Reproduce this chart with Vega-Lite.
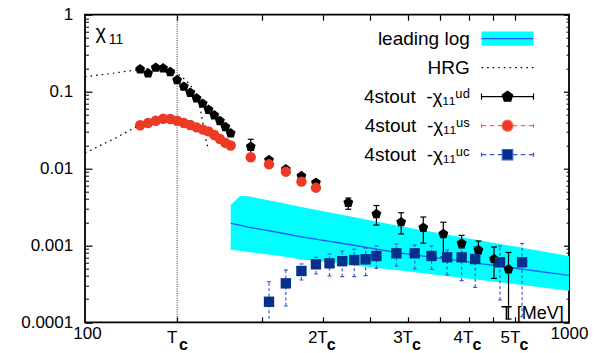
{
  "$schema": "https://vega.github.io/schema/vega-lite/v6.json",
  "width": 484,
  "height": 307.6,
  "autosize": {"type": "none"},
  "padding": {"left": 85, "top": 14.7, "right": 40, "bottom": 30.7},
  "config": {
    "font": "Liberation Sans",
    "view": {"stroke": "#000", "strokeWidth": 1.8},
    "axis": {
      "grid": false, "domain": false, "labelFont": "Liberation Sans", "labelColor": "#000",
      "tickColor": "#000", "titleColor": "#000", "titleFont": "Liberation Sans", "titleFontWeight": "normal",
      "labelOverlap": false, "labelFlush": false, "labelBound": false
    }
  },
  "datasets": {
    "band": [
      {"T": 200, "lo": 0.00088, "mid": 0.00194, "hi": 0.00335},
      {"T": 209, "lo": 0.000853, "mid": 0.00184, "hi": 0.00439},
      {"T": 217, "lo": 0.000818, "mid": 0.00173, "hi": 0.00435},
      {"T": 253, "lo": 0.00073, "mid": 0.00146, "hi": 0.00361},
      {"T": 278, "lo": 0.000659, "mid": 0.0013, "hi": 0.00319},
      {"T": 354, "lo": 0.000558, "mid": 0.00102, "hi": 0.00238},
      {"T": 448, "lo": 0.000472, "mid": 0.000796, "hi": 0.00177},
      {"T": 656, "lo": 0.000354, "mid": 0.00058, "hi": 0.00116},
      {"T": 1000, "lo": 0.000258, "mid": 0.000408, "hi": 0.000728}
    ],
    "tc": [{"T": 155}],
    "hrg": [
      {"c": "ud", "T": 100, "v": 0.156}, {"c": "ud", "T": 110, "v": 0.168}, {"c": "ud", "T": 120, "v": 0.181},
      {"c": "ud", "T": 130, "v": 0.194}, {"c": "ud", "T": 140, "v": 0.201}, {"c": "ud", "T": 148, "v": 0.192},
      {"c": "ud", "T": 155, "v": 0.172}, {"c": "ud", "T": 160, "v": 0.148}, {"c": "ud", "T": 165, "v": 0.122},
      {"c": "ud", "T": 169, "v": 0.097}, {"c": "ud", "T": 172, "v": 0.072}, {"c": "ud", "T": 174, "v": 0.05},
      {"c": "ud", "T": 176, "v": 0.033}, {"c": "ud", "T": 178, "v": 0.023}, {"c": "ud", "T": 180, "v": 0.0172},
      {"c": "us", "T": 100, "v": 0.0159}, {"c": "us", "T": 115, "v": 0.0245}, {"c": "us", "T": 130, "v": 0.037},
      {"c": "us", "T": 140, "v": 0.043}
    ],
    "pts": [
      {"s": "ud", "T": 130, "v": 0.195, "lo": 0.18, "hi": 0.212},
      {"s": "ud", "T": 135, "v": 0.173, "lo": 0.165, "hi": 0.181},
      {"s": "ud", "T": 140, "v": 0.205, "lo": 0.196, "hi": 0.214},
      {"s": "ud", "T": 145, "v": 0.201, "lo": 0.193, "hi": 0.209},
      {"s": "ud", "T": 150, "v": 0.18, "lo": 0.173, "hi": 0.187},
      {"s": "ud", "T": 155, "v": 0.1415, "lo": 0.136, "hi": 0.147},
      {"s": "ud", "T": 160, "v": 0.116, "lo": 0.112, "hi": 0.12},
      {"s": "ud", "T": 165, "v": 0.0968, "lo": 0.094, "hi": 0.1},
      {"s": "ud", "T": 170, "v": 0.0818, "lo": 0.079, "hi": 0.0845},
      {"s": "ud", "T": 175, "v": 0.0697, "lo": 0.0675, "hi": 0.072},
      {"s": "ud", "T": 180, "v": 0.0582, "lo": 0.0563, "hi": 0.0601},
      {"s": "ud", "T": 185, "v": 0.0492, "lo": 0.0476, "hi": 0.0508},
      {"s": "ud", "T": 190, "v": 0.0415, "lo": 0.0402, "hi": 0.0428},
      {"s": "ud", "T": 195, "v": 0.0347, "lo": 0.0336, "hi": 0.0358},
      {"s": "ud", "T": 200, "v": 0.0287, "lo": 0.0278, "hi": 0.0296},
      {"s": "ud", "T": 220, "v": 0.0192, "lo": 0.015, "hi": 0.024},
      {"s": "ud", "T": 240, "v": 0.0129, "lo": 0.0122, "hi": 0.0136},
      {"s": "ud", "T": 260, "v": 0.00977, "lo": 0.0093, "hi": 0.0102},
      {"s": "ud", "T": 280, "v": 0.00798, "lo": 0.0076, "hi": 0.0084},
      {"s": "ud", "T": 300, "v": 0.00654, "lo": 0.0062, "hi": 0.0069},
      {"s": "ud", "T": 350, "v": 0.00359, "lo": 0.00295, "hi": 0.00413},
      {"s": "ud", "T": 400, "v": 0.00256, "lo": 0.00184, "hi": 0.0033},
      {"s": "ud", "T": 450, "v": 0.00201, "lo": 0.00141, "hi": 0.00266},
      {"s": "ud", "T": 500, "v": 0.0017, "lo": 0.00107, "hi": 0.00234},
      {"s": "ud", "T": 550, "v": 0.00141, "lo": 0.00071, "hi": 0.002},
      {"s": "ud", "T": 600, "v": 0.00106, "lo": 0.000925, "hi": 0.00135},
      {"s": "ud", "T": 650, "v": 0.000871, "lo": 0.000773, "hi": 0.00114},
      {"s": "ud", "T": 700, "v": 0.000665, "lo": 0.000373, "hi": 0.000953},
      {"s": "ud", "T": 750, "v": 0.000489, "lo": 0.00011, "hi": 0.000809},
      {"s": "us", "T": 130, "v": 0.0365}, {"s": "us", "T": 135, "v": 0.0391}, {"s": "us", "T": 140, "v": 0.0418},
      {"s": "us", "T": 145, "v": 0.0444}, {"s": "us", "T": 150, "v": 0.044}, {"s": "us", "T": 155, "v": 0.0418},
      {"s": "us", "T": 160, "v": 0.0391}, {"s": "us", "T": 165, "v": 0.0368}, {"s": "us", "T": 170, "v": 0.0343},
      {"s": "us", "T": 175, "v": 0.0322}, {"s": "us", "T": 180, "v": 0.0304}, {"s": "us", "T": 185, "v": 0.0273},
      {"s": "us", "T": 190, "v": 0.0242}, {"s": "us", "T": 195, "v": 0.0215}, {"s": "us", "T": 200, "v": 0.0199},
      {"s": "us", "T": 220, "v": 0.014}, {"s": "us", "T": 240, "v": 0.01134}, {"s": "us", "T": 260, "v": 0.00909},
      {"s": "us", "T": 280, "v": 0.00674}, {"s": "us", "T": 300, "v": 0.00563},
      {"s": "uc", "T": 240, "v": 0.000185, "lo": 0.00008, "hi": 0.000337},
      {"s": "uc", "T": 260, "v": 0.000321, "lo": 0.000163, "hi": 0.000479},
      {"s": "uc", "T": 280, "v": 0.000465, "lo": 0.000355, "hi": 0.000573},
      {"s": "uc", "T": 300, "v": 0.000568, "lo": 0.000425, "hi": 0.0007},
      {"s": "uc", "T": 320, "v": 0.000585, "lo": 0.0004, "hi": 0.000773},
      {"s": "uc", "T": 340, "v": 0.000623, "lo": 0.000392, "hi": 0.000846},
      {"s": "uc", "T": 360, "v": 0.000646, "lo": 0.000392, "hi": 0.000889},
      {"s": "uc", "T": 380, "v": 0.000659, "lo": 0.000404, "hi": 0.00092},
      {"s": "uc", "T": 400, "v": 0.000728, "lo": 0.000504, "hi": 0.000982},
      {"s": "uc", "T": 440, "v": 0.000789, "lo": 0.00054, "hi": 0.00104},
      {"s": "uc", "T": 480, "v": 0.000789, "lo": 0.000493, "hi": 0.00101},
      {"s": "uc", "T": 520, "v": 0.000728, "lo": 0.000489, "hi": 0.000982},
      {"s": "uc", "T": 560, "v": 0.0007, "lo": 0.000412, "hi": 0.000871},
      {"s": "uc", "T": 600, "v": 0.0007, "lo": 0.000348, "hi": 0.000934},
      {"s": "uc", "T": 640, "v": 0.000665, "lo": 0.000285, "hi": 0.000962},
      {"s": "uc", "T": 720, "v": 0.000603, "lo": 0.000195, "hi": 0.000982},
      {"s": "uc", "T": 800, "v": 0.000603, "lo": 0.000118, "hi": 0.00106}
    ]
  },
  "resolve": {"axis": {"x": "independent", "y": "independent"}},
  "layer": [
    {
      "data": {"name": "band"},
      "mark": {"type": "area", "color": "#00ffff", "opacity": 1, "clip": true},
      "encoding": {
        "x": {
          "field": "T", "type": "quantitative",
          "scale": {"type": "log", "domain": [100, 1000], "nice": false},
          "axis": {
            "orient": "bottom", "values": [100, 155, 310, 465, 620, 775, 1000], "ticks": false,
            "labelExpr": "datum.value == 100 ? '100' : datum.value == 1000 ? '1000' : datum.value == 155 ? 'T' : round(datum.value / 155) + 'T'",
            "labelFontSize": 17, "labelAlign": "center", "labelBaseline": "alphabetic",
            "labelPadding": {"condition": {"test": "datum.value == 100 || datum.value == 1000", "value": 16}, "value": 19.7},
            "labelOffset": {"condition": [{"test": "datum.value == 100", "value": 2}, {"test": "datum.value == 1000", "value": 0}], "value": -5.5},
            "title": "T [MeV]", "titleFontSize": 18, "titleX": 478.3, "titleY": -4,
            "titleAlign": "right", "titleBaseline": "alphabetic"
          }
        },
        "y": {
          "field": "hi", "type": "quantitative",
          "scale": {"type": "log", "domain": [0.0001, 1], "nice": false},
          "axis": {
            "orient": "left", "values": [0.0001, 0.001, 0.01, 0.1, 1], "format": "~g", "ticks": false,
            "labelFontSize": 17, "labelPadding": 12.3, "labelAlign": "right", "labelBaseline": "middle",
            "title": "χ", "titleAngle": 0, "titleX": 10, "titleY": 24, "titleAlign": "left",
            "titleBaseline": "alphabetic", "titleFontSize": 20
          }
        },
        "y2": {"field": "lo"}
      }
    },
    {
      "data": {"name": "band"},
      "mark": {"type": "line", "color": "#1f5aff", "strokeWidth": 1.3, "clip": true},
      "encoding": {
        "x": {
          "field": "T", "type": "quantitative",
          "scale": {"type": "log", "domain": [100, 1000], "nice": false},
          "axis": {
            "orient": "bottom", "values": [155, 310, 465, 620, 775], "ticks": false,
            "labelExpr": "'c'", "labelFontSize": 16, "labelFontWeight": "bold",
            "labelAlign": "left", "labelBaseline": "alphabetic", "labelPadding": 26.7,
            "labelOffset": {"condition": {"test": "datum.value == 155", "value": 1.5}, "value": 3.5},
            "title": null
          }
        },
        "y": {
          "field": "mid", "type": "quantitative",
          "scale": {"type": "log", "domain": [0.0001, 1], "nice": false},
          "axis": {
            "orient": "left", "values": [0.0001, 0.001, 0.01, 0.1, 1], "labels": false,
            "tickSize": -7, "tickWidth": 1.2,
            "title": "11", "titleAngle": 0, "titleX": 23.3, "titleY": 28.6, "titleAlign": "left",
            "titleBaseline": "alphabetic", "titleFontSize": 14
          }
        }
      }
    },
    {
      "data": {"name": "tc"},
      "mark": {"type": "rule", "color": "#333", "strokeDash": [1, 1.3], "strokeWidth": 1},
      "encoding": {
        "x": {
          "field": "T", "type": "quantitative",
          "scale": {"type": "log", "domain": [100, 1000], "nice": false},
          "axis": {
            "orient": "bottom", "values": [155, 232.5, 310, 387.5, 465, 542.5, 620, 697.5, 775],
            "labels": false, "tickSize": -5.5, "tickWidth": 1.2, "title": null
          }
        }
      }
    },
    {
      "data": {"name": "hrg"},
      "mark": {"type": "line", "color": "#000", "strokeDash": [1.6, 4], "strokeWidth": 1.2, "clip": true},
      "encoding": {
        "x": {
          "field": "T", "type": "quantitative",
          "scale": {"type": "log", "domain": [100, 1000], "nice": false},
          "axis": {
            "orient": "top", "values": [155, 232.5, 310, 387.5, 465, 542.5, 620, 697.5, 775],
            "labels": false, "tickSize": -5.5, "tickWidth": 1.2, "title": null
          }
        },
        "y": {
          "field": "v", "type": "quantitative",
          "scale": {"type": "log", "domain": [0.0001, 1], "nice": false},
          "axis": {
            "orient": "left",
            "values": [0.0002, 0.0003, 0.0004, 0.0005, 0.0006, 0.0007, 0.0008, 0.0009,
                       0.002, 0.003, 0.004, 0.005, 0.006, 0.007, 0.008, 0.009,
                       0.02, 0.03, 0.04, 0.05, 0.06, 0.07, 0.08, 0.09,
                       0.2, 0.3, 0.4, 0.5, 0.6, 0.7, 0.8, 0.9],
            "labels": false, "tickSize": -3.5, "tickWidth": 1, "title": null
          }
        },
        "detail": {"field": "c"}
      }
    },
    {
      "data": {"name": "pts"},
      "transform": [{"filter": "datum.s == 'ud'"}],
      "mark": {"type": "rule", "color": "#000", "strokeWidth": 1.2},
      "encoding": {
        "x": {"field": "T", "type": "quantitative", "scale": {"type": "log", "domain": [100, 1000], "nice": false}, "axis": null},
        "y": {
          "field": "lo", "type": "quantitative",
          "scale": {"type": "log", "domain": [0.0001, 1], "nice": false},
          "axis": {
            "orient": "right", "values": [0.0001, 0.001, 0.01, 0.1, 1],
            "labels": false, "tickSize": -5.5, "tickWidth": 1.2, "title": null
          }
        },
        "y2": {"field": "hi"}
      }
    },
    {
      "data": {"name": "pts"},
      "transform": [{"filter": "datum.s == 'ud'"}],
      "mark": {"type": "tick", "orient": "horizontal", "color": "#000", "size": 6, "thickness": 1.2, "opacity": 1},
      "encoding": {
        "x": {"field": "T", "type": "quantitative", "scale": {"type": "log", "domain": [100, 1000], "nice": false}, "axis": null},
        "y": {
          "field": "lo", "type": "quantitative",
          "scale": {"type": "log", "domain": [0.0001, 1], "nice": false},
          "axis": {
            "orient": "right",
            "values": [0.0002, 0.0003, 0.0004, 0.0005, 0.0006, 0.0007, 0.0008, 0.0009,
                       0.002, 0.003, 0.004, 0.005, 0.006, 0.007, 0.008, 0.009,
                       0.02, 0.03, 0.04, 0.05, 0.06, 0.07, 0.08, 0.09,
                       0.2, 0.3, 0.4, 0.5, 0.6, 0.7, 0.8, 0.9],
            "labels": false, "tickSize": -3, "tickWidth": 1, "title": null
          }
        }
      }
    },
    {
      "data": {"name": "pts"},
      "transform": [{"filter": "datum.s == 'ud'"}],
      "mark": {"type": "tick", "orient": "horizontal", "color": "#000", "size": 6, "thickness": 1.2, "opacity": 1},
      "encoding": {
        "x": {"field": "T", "type": "quantitative", "scale": {"type": "log", "domain": [100, 1000], "nice": false}, "axis": null},
        "y": {"field": "hi", "type": "quantitative", "scale": {"type": "log", "domain": [0.0001, 1], "nice": false}, "axis": null}
      }
    },
    {
      "data": {"name": "pts"},
      "transform": [{"filter": "datum.s == 'uc'"}],
      "mark": {"type": "rule", "color": "#3a5bd0", "strokeDash": [3, 2.5], "strokeWidth": 1.2, "clip": true},
      "encoding": {
        "x": {"field": "T", "type": "quantitative", "scale": {"type": "log", "domain": [100, 1000], "nice": false}, "axis": null},
        "y": {"field": "lo", "type": "quantitative", "scale": {"type": "log", "domain": [0.0001, 1], "nice": false}, "axis": null},
        "y2": {"field": "hi"}
      }
    },
    {
      "data": {"name": "pts"},
      "transform": [{"filter": "datum.s == 'uc'"}],
      "mark": {"type": "tick", "orient": "horizontal", "color": "#3a5bd0", "size": 4, "thickness": 1.2, "opacity": 1, "clip": true},
      "encoding": {
        "x": {"field": "T", "type": "quantitative", "scale": {"type": "log", "domain": [100, 1000], "nice": false}, "axis": null},
        "y": {"field": "lo", "type": "quantitative", "scale": {"type": "log", "domain": [0.0001, 1], "nice": false}, "axis": null}
      }
    },
    {
      "data": {"name": "pts"},
      "transform": [{"filter": "datum.s == 'uc'"}],
      "mark": {"type": "tick", "orient": "horizontal", "color": "#3a5bd0", "size": 4, "thickness": 1.2, "opacity": 1},
      "encoding": {
        "x": {"field": "T", "type": "quantitative", "scale": {"type": "log", "domain": [100, 1000], "nice": false}, "axis": null},
        "y": {"field": "hi", "type": "quantitative", "scale": {"type": "log", "domain": [0.0001, 1], "nice": false}, "axis": null}
      }
    },
    {
      "data": {"name": "pts"},
      "mark": {"type": "point", "filled": true, "opacity": 1, "size": 108, "strokeWidth": 0},
      "encoding": {
        "x": {"field": "T", "type": "quantitative", "scale": {"type": "log", "domain": [100, 1000], "nice": false}, "axis": null},
        "y": {"field": "v", "type": "quantitative", "scale": {"type": "log", "domain": [0.0001, 1], "nice": false}, "axis": null},
        "shape": {
          "field": "s", "type": "nominal", "legend": null,
          "scale": {"domain": ["ud", "us", "uc"], "range": ["M0,-1L0.951,-0.309L0.588,0.809L-0.588,0.809L-0.951,-0.309Z", "circle", "square"]}
        },
        "color": {
          "field": "s", "type": "nominal",
          "scale": {"domain": ["leading log", "HRG", "ud", "us", "uc"], "range": ["#00ffff", "#000000", "#000000", "#ec3a24", "#07308c"]},
          "legend": {
            "title": null, "orient": "none", "legendX": 404, "legendY": 5.5, "direction": "vertical",
            "padding": 0, "rowPadding": 0,
            "labelFont": "Liberation Sans", "labelFontSize": 19, "labelColor": "#000",
            "labelAlign": "right", "labelBaseline": "middle", "labelOffset": -56.2, "labelLimit": 400,
            "labelExpr": "datum.value == 'ud' ? '4stout\u00a0 -χ₁₁ᵘᵈ' : datum.value == 'us' ? '4stout\u00a0 -χ₁₁ᵘˢ' : datum.value == 'uc' ? '4stout\u00a0 -χ₁₁ᵘᶜ' : datum.value",
            "symbolSize": 1267, "symbolStrokeWidth": 1.2, "symbolOpacity": 1,
            "encode": {
              "symbols": {
                "update": {
                  "shape": {"signal": "datum.value == 'leading log' ? 'M-1.461,0H1.461V-0.402H-1.461V0.402H1.461V0' : datum.value == 'HRG' ? 'M-1.461,0H1.461' : datum.value == 'ud' ? 'M-1.461,0H1.461M-1.461,-0.174V0.174M1.461,-0.174V0.174M0,-0.309L0.294,-0.0955L0.1817,0.25L-0.1817,0.25L-0.294,-0.0955Z' : datum.value == 'us' ? 'M-1.461,0H-1.197M-1.006,0H-0.742M-0.551,0H-0.292M0.292,0H0.551M0.742,0H1.006M1.197,0H1.461M-1.461,-0.112V0.112M1.461,-0.112V0.112M-0.309,0A0.309,0.309,0,1,0,0.309,0A0.309,0.309,0,1,0,-0.309,0Z' : 'M-1.461,0H-1.197M-1.006,0H-0.742M-0.551,0H-0.292M0.292,0H0.551M0.742,0H1.006M1.197,0H1.461M-1.461,-0.112V0.112M1.461,-0.112V0.112M-0.292,-0.292H0.292V0.292H-0.292Z'"},
                  "fill": {"signal": "datum.value == 'leading log' ? '#00ffff' : datum.value == 'HRG' ? 'transparent' : datum.value == 'us' ? '#ec3a24' : datum.value == 'uc' ? '#07308c' : '#000000'"},
                  "stroke": {"signal": "datum.value == 'leading log' ? '#1f5aff' : datum.value == 'us' ? '#ef6a55' : datum.value == 'uc' ? '#3a5bd0' : '#000000'"},
                  "strokeDash": {"signal": "datum.value == 'leading log' ? [52, 3000] : datum.value == 'HRG' ? [1.6, 4] : []"},
                  "strokeWidth": {"value": 1.2},
                  "opacity": {"value": 1}
                }
              }
            }
          }
        }
      }
    }
  ]
}
